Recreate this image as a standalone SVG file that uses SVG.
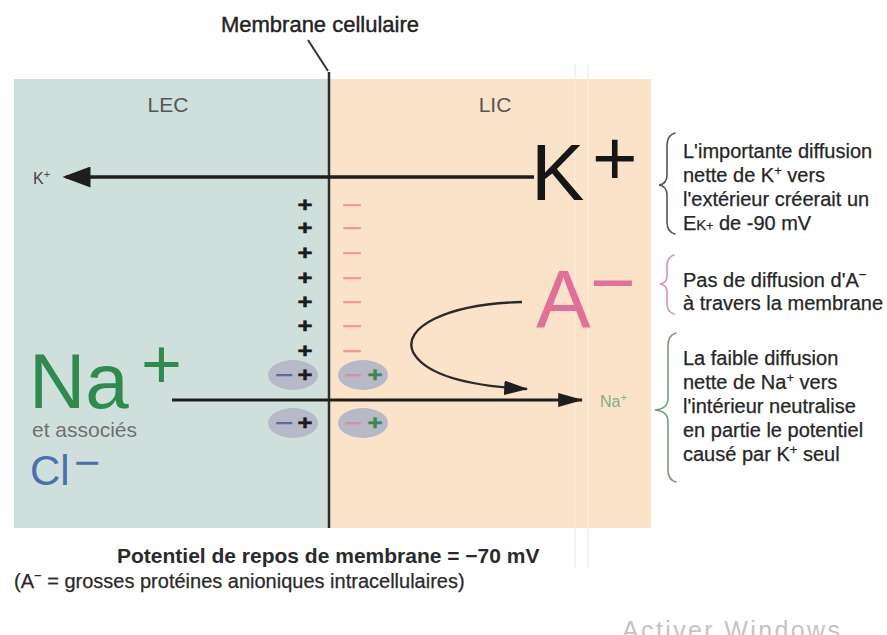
<svg xmlns="http://www.w3.org/2000/svg" width="887" height="635" viewBox="0 0 887 635">
<style>
text{font-family:"Liberation Sans",Arial,sans-serif}
.note{font-size:20px;fill:#262626;stroke:#262626;stroke-width:0.25}
.ch{font-size:20px;font-weight:bold;text-anchor:middle;stroke-width:0.5}
.pk{fill:#1c1c1c;stroke:#1c1c1c}
.mp{fill:#e99b9b;stroke:#e99b9b;stroke-width:0.2}
.mb{fill:#5a6a9a;stroke:#5a6a9a;stroke-width:0.2}
.mr{fill:#d98ea6;stroke:#d98ea6;stroke-width:0.2}
.pg{fill:#3c8a50;stroke:#3c8a50}
.ell{fill:#b7b8c8}
.brace{fill:none;stroke-width:1.6;stroke-linecap:round}
</style>
<defs>
<marker id="ahBig" markerWidth="8" markerHeight="6" refX="7" refY="3" orient="auto" markerUnits="strokeWidth">
<path d="M0,0 L8,3 L0,6 Z" fill="#1e1e1e"/>
</marker>
<marker id="ahMid" markerWidth="9" markerHeight="5" refX="8.5" refY="2.5" orient="auto" markerUnits="strokeWidth">
<path d="M0,0 L9,2.5 L0,5 Z" fill="#1e1e1e"/>
</marker>
<marker id="ahCurve" markerWidth="10" markerHeight="6" refX="9.5" refY="3" orient="auto" markerUnits="strokeWidth">
<path d="M0,0 L10,3 L0,6 Z" fill="#1e1e1e"/>
</marker>
</defs>
<rect width="887" height="635" fill="#ffffff"/>

<g id="lec">
<rect x="14" y="79" width="315" height="449" fill="#cfe0dc"/>
<text x="168" y="112" font-size="21" fill="#555" text-anchor="middle">LEC</text>
</g>
<g id="lic">
<rect x="329" y="79" width="322" height="449" fill="#fbe3c9"/>
<text x="495" y="112" font-size="21" fill="#555" text-anchor="middle">LIC</text>
</g>
<g id="artifacts" stroke-width="1.5">
<line x1="575" y1="79" x2="575" y2="528" stroke="#ffffff" stroke-opacity="0.3"/>
<line x1="588" y1="79" x2="588" y2="528" stroke="#ffffff" stroke-opacity="0.3"/>
<line x1="575" y1="63" x2="575" y2="79" stroke="#eeeeee"/>
<line x1="588" y1="63" x2="588" y2="79" stroke="#eeeeee"/>
<line x1="575" y1="528" x2="575" y2="568" stroke="#f0f0f0"/>
<line x1="588" y1="528" x2="588" y2="568" stroke="#f0f0f0"/>
</g>

<g id="membrane">
<line x1="329" y1="72" x2="329" y2="528" stroke="#2e2e2e" stroke-width="2.5"/>
<text x="320" y="32" font-size="22" fill="#222" stroke="#222" stroke-width="0.4" text-anchor="middle">Membrane cellulaire</text>
<line x1="308" y1="40" x2="328" y2="71" stroke="#333" stroke-width="2"/>
</g>

<g id="connectors">
<line x1="534" y1="177" x2="66" y2="177" stroke="#1e1e1e" stroke-width="3.5" marker-end="url(#ahBig)"/>
<line x1="172" y1="400" x2="582" y2="400" stroke="#1e1e1e" stroke-width="2.8" marker-end="url(#ahMid)"/>
<path d="M522,302 C445,304 402,328 413,352 C425,375 470,386 527,389" fill="none" stroke="#2a2a2a" stroke-width="2.4" marker-end="url(#ahCurve)"/>
</g>

<g id="k-ion">
<text x="531" y="200" font-size="80" fill="#161616">K</text>
<text x="592" y="185" font-size="78" fill="#161616">+</text>
<text x="33" y="184" font-size="16" fill="#444">K<tspan font-size="11" dy="-6">+</tspan></text>
</g>

<g id="a-ion">
<text x="536" y="327" font-size="82" fill="#e0709a">A</text>
<text x="590" y="309" font-size="78" fill="#e0709a">−</text>
</g>

<g id="na-ion">
<text font-size="78" fill="#2f8a4e"><tspan x="29" y="408">Na</tspan><tspan x="141" y="388" font-size="70">+</tspan><tspan x="32" y="437" font-size="21" fill="#707070">et associés</tspan></text>
<text x="600" y="407" font-size="16" fill="#7fae8a">Na<tspan font-size="11" dy="-6">+</tspan></text>
</g>

<g id="cl-ion">
<text x="30" y="485" font-size="42" fill="#4a70b0">Cl</text>
<text x="74" y="478" font-size="45" fill="#4a70b0">−</text>
</g>

<g id="charges">
<text class="ch pk" x="305" y="212" textLength="15" lengthAdjust="spacingAndGlyphs">+</text>
<text class="ch pk" x="305" y="235" textLength="15" lengthAdjust="spacingAndGlyphs">+</text>
<text class="ch pk" x="305" y="260" textLength="15" lengthAdjust="spacingAndGlyphs">+</text>
<text class="ch pk" x="305" y="285" textLength="15" lengthAdjust="spacingAndGlyphs">+</text>
<text class="ch pk" x="305" y="309" textLength="15" lengthAdjust="spacingAndGlyphs">+</text>
<text class="ch pk" x="305" y="333" textLength="15" lengthAdjust="spacingAndGlyphs">+</text>
<text class="ch pk" x="305" y="358" textLength="15" lengthAdjust="spacingAndGlyphs">+</text>
<text class="ch mp" x="352" y="212" textLength="20" lengthAdjust="spacingAndGlyphs">−</text>
<text class="ch mp" x="352" y="235" textLength="20" lengthAdjust="spacingAndGlyphs">−</text>
<text class="ch mp" x="352" y="260" textLength="20" lengthAdjust="spacingAndGlyphs">−</text>
<text class="ch mp" x="352" y="285" textLength="20" lengthAdjust="spacingAndGlyphs">−</text>
<text class="ch mp" x="352" y="309" textLength="20" lengthAdjust="spacingAndGlyphs">−</text>
<text class="ch mp" x="352" y="333" textLength="20" lengthAdjust="spacingAndGlyphs">−</text>
<text class="ch mp" x="352" y="358" textLength="20" lengthAdjust="spacingAndGlyphs">−</text>
</g>

<g id="pairs">
<ellipse class="ell" cx="293" cy="375" rx="25" ry="15"/>
<ellipse class="ell" cx="363" cy="375" rx="25" ry="15"/>
<ellipse class="ell" cx="293" cy="423" rx="25" ry="15"/>
<ellipse class="ell" cx="363" cy="423" rx="25" ry="15"/>
<text class="ch mb" x="284" y="382" textLength="18" lengthAdjust="spacingAndGlyphs">−</text>
<text class="ch pk" x="305" y="382" textLength="15" lengthAdjust="spacingAndGlyphs">+</text>
<text class="ch mr" x="353" y="382" textLength="18" lengthAdjust="spacingAndGlyphs">−</text>
<text class="ch pg" x="375" y="382" textLength="15" lengthAdjust="spacingAndGlyphs">+</text>
<text class="ch mb" x="284" y="430" textLength="18" lengthAdjust="spacingAndGlyphs">−</text>
<text class="ch pk" x="305" y="430" textLength="15" lengthAdjust="spacingAndGlyphs">+</text>
<text class="ch mr" x="353" y="430" textLength="18" lengthAdjust="spacingAndGlyphs">−</text>
<text class="ch pg" x="375" y="430" textLength="15" lengthAdjust="spacingAndGlyphs">+</text>
</g>

<g id="note-k">
<path class="brace" stroke="#555" d="M675,133 Q667,135 667,146 L667,175 Q667,184 659,185 Q667,186 667,195 L667,222 Q667,232 675,234"/>
<text class="note" x="683" y="158">L'importante diffusion</text>
<text class="note" x="683" y="182">nette de K<tspan font-size="13" dy="-7">+</tspan><tspan dy="7"> vers</tspan></text>
<text class="note" x="683" y="206">l'extérieur créerait un</text>
<text class="note" x="683" y="230">E<tspan font-size="15">K</tspan><tspan font-size="12">+</tspan> de -90 mV</text>
</g>

<g id="note-a">
<path class="brace" stroke="#d98fb6" d="M674,255 Q667,257 667,266 L667,276 Q667,283 660,284 Q667,285 667,292 L667,303 Q667,312 674,314"/>
<text class="note" x="683" y="287">Pas de diffusion d'A<tspan font-size="13" dy="-8">−</tspan></text>
<text class="note" x="683" y="310">à travers la membrane</text>
</g>

<g id="note-na">
<path class="brace" stroke="#6e9e7e" d="M676,333 Q668,335 668,346 L668,398 Q668,409 655,410 Q668,411 668,422 L668,470 Q668,480 676,482"/>
<text class="note" x="683" y="365">La faible diffusion</text>
<text class="note" x="683" y="389">nette de Na<tspan font-size="13" dy="-7">+</tspan><tspan dy="7"> vers</tspan></text>
<text class="note" x="683" y="413">l'intérieur neutralise</text>
<text class="note" x="683" y="437">en partie le potentiel</text>
<text class="note" x="683" y="461">causé par K<tspan font-size="13" dy="-7">+</tspan><tspan dy="7"> seul</tspan></text>
</g>

<g id="footer">
<text x="117" y="563" font-size="21" font-weight="bold" fill="#2a2a2a">Potentiel de repos de membrane = −70 mV</text>
<text x="14" y="588" font-size="20" fill="#2a2a2a" stroke="#2a2a2a" stroke-width="0.25">(A<tspan font-size="13" dy="-8">−</tspan><tspan dy="8"> = grosses protéines anioniques intracellulaires)</tspan></text>
<text x="622" y="639" font-size="25" fill="#c4c4c4" textLength="218" font-family="'Open Sans',sans-serif">Activer Windows</text>
</g>
</svg>
